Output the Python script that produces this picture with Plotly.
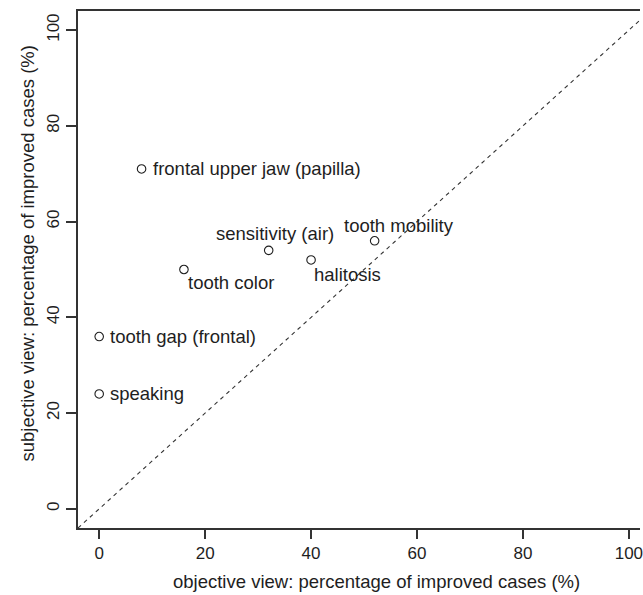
import plotly.graph_objects as go

# ---- data ----
items = ["frontal upper jaw (papilla)", "sensitivity (air)", "tooth mobility",
         "halitosis", "tooth color", "tooth gap (frontal)", "speaking"]
objective = [8, 32, 52, 40, 16, 0, 0]
subjective = [71, 54, 56, 52, 50, 36, 24]
tick_values = [0, 20, 40, 60, 80, 100]
x_title = "objective view: percentage of improved cases (%)"
y_title = "subjective view: percentage of improved cases (%)"

# ---- style / layout ----
X_RANGE = [-4, 102.1]
Y_RANGE = [-4, 104]
FONT = "Liberation Sans, Arial, Helvetica, sans-serif"
INK = "#1e1e1e"
AX = "#333333"

# label placement: (xanchor, xshift, yshift)
label_pos = {
    "frontal upper jaw (papilla)": ("left", 9, 0),
    "sensitivity (air)": ("center", 6, 17),
    "tooth mobility": ("center", 24, 15),
    "halitosis": ("left", 1, -15),
    "tooth color": ("left", 2, -13),
    "tooth gap (frontal)": ("left", 9, 0),
    "speaking": ("left", 9, 0),
}

fig = go.Figure()

# identity reference line across the full axis extent
diag = [min(X_RANGE[0], Y_RANGE[0]), max(X_RANGE[1], Y_RANGE[1])]
fig.add_trace(go.Scatter(
    x=diag, y=diag, mode="lines",
    line=dict(color=AX, width=1.1, dash="4px,4px"),
    hoverinfo="skip", showlegend=False,
))

fig.add_trace(go.Scatter(
    x=objective, y=subjective, mode="markers",
    marker=dict(symbol="circle-open", size=8.5, color=INK, line=dict(width=1.1, color=INK)),
    showlegend=False, cliponaxis=False,
))

for name, xv, yv in zip(items, objective, subjective):
    anchor, xs, ys = label_pos[name]
    fig.add_annotation(
        x=xv, y=yv, xref="x", yref="y", text=name, showarrow=False,
        xanchor=anchor, yanchor="middle", xshift=xs, yshift=ys,
        font=dict(family=FONT, size=18.5, color=INK),
    )

fig.add_annotation(
    x=0.532, y=0.0, xref="paper", yref="paper", yanchor="middle", xanchor="center",
    yshift=-53, text=x_title, showarrow=False,
    font=dict(family=FONT, size=18.5, color=INK),
)
fig.add_annotation(
    x=0.0, y=0.531, xref="paper", yref="paper", xanchor="center", yanchor="middle",
    xshift=-51, text=y_title, showarrow=False, textangle=-90,
    font=dict(family=FONT, size=18.5, color=INK),
)

fig.update_layout(
    width=643, height=595,
    margin=dict(l=78, r=0, t=11, b=67),
    paper_bgcolor="white", plot_bgcolor="white",
    font=dict(family=FONT, color=INK),
)
fig.update_xaxes(
    range=X_RANGE, tickvals=tick_values, ticktext=[str(v) for v in tick_values],
    showgrid=False, zeroline=False, showline=True, mirror=True,
    linecolor=AX, linewidth=1.5, ticks="outside", ticklen=9, tickwidth=1.5,
    tickcolor=AX, tickfont=dict(family=FONT, size=17, color=INK),
    ticklabeloverflow="allow",
)
fig.update_yaxes(
    range=Y_RANGE, tickvals=tick_values, ticktext=[str(v) for v in tick_values],
    showgrid=False, zeroline=False, showline=True, mirror=False,
    linecolor=AX, linewidth=1.5, ticks="outside", ticklen=10, tickwidth=1.5,
    tickcolor=AX, tickangle=-90, tickfont=dict(family=FONT, size=17, color=INK),
)

fig.write_html(
    "out.html",
    config={"displayModeBar": False},
    post_script="document.body.style.margin='0';document.body.style.overflow='hidden';",
)
